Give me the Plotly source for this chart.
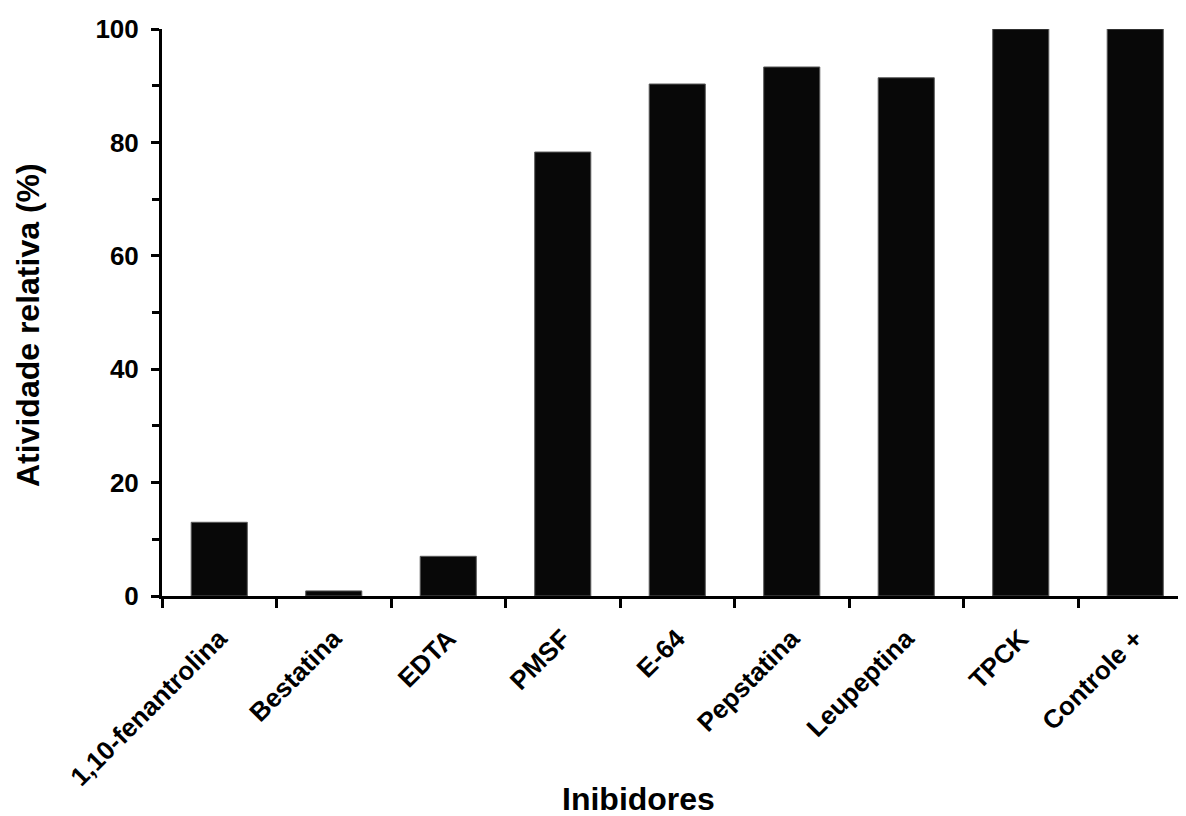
import plotly.graph_objects as go

categories = ["1,10-fenantrolina", "Bestatina", "EDTA", "PMSF", "E-64",
              "Pepstatina", "Leupeptina", "TPCK", "Controle +"]
atividade = [13, 0.9, 7, 78.3, 90.3, 93.3, 91.4, 100, 100]
y_ticks = [0, 20, 40, 60, 80, 100]

OFF = 8  # page body margin
W, H = 1186 - OFF, 816 - OFF
L, T = 162 - OFF, 29 - OFF
plot_bottom = 596 - OFF
B = H - plot_bottom
R = 0
pw = W - L - R
ph = H - T - B
cat_w = 114.5
x_max = -0.5 + pw / cat_w

FONT = "Liberation Sans, Arial, sans-serif"

fig = go.Figure()
fig.add_trace(go.Bar(
    x=categories, y=atividade, width=0.49,
    marker=dict(color="#080808", line=dict(color="#5a5a5a", width=1)),
))

def px_x(xp):
    return (xp - OFF - L) / pw

def px_y(yp):
    return (plot_bottom - (yp - OFF)) / ph

fig.update_layout(
    width=W, height=H,
    margin=dict(l=L, r=R, t=T, b=B, autoexpand=False),
    plot_bgcolor="white", paper_bgcolor="white",
    showlegend=False,
    font=dict(family=FONT, color="black", size=26, weight="bold"),
    xaxis=dict(
        type="category", range=[-0.5, x_max],
        showline=True, linecolor="black", linewidth=3,
        ticks="outside", tickson="boundaries", ticklen=9, tickwidth=3, tickcolor="black",
        tickangle=-45, ticklabelstandoff=14,
        tickfont=dict(size=26, family=FONT, weight="bold"),
        showgrid=False, zeroline=False,
    ),
    yaxis=dict(
        range=[0, 100], tickvals=y_ticks,
        showline=True, linecolor="black", linewidth=3,
        ticks="outside", ticklen=8, tickwidth=3, tickcolor="black",
        ticklabelstandoff=7,
        minor=dict(dtick=10, tick0=0, ticks="outside", ticklen=7, tickwidth=3, tickcolor="black", showgrid=False),
        tickfont=dict(size=26, family=FONT, weight="bold"),
        showgrid=False, zeroline=False,
    ),
    annotations=[
        dict(text="Atividade relativa (%)", xref="paper", yref="paper",
             x=px_x(28), y=px_y(325), textangle=-90,
             showarrow=False, xanchor="center", yanchor="middle",
             font=dict(size=32, family=FONT, weight="bold")),
        dict(text="Inibidores", xref="paper", yref="paper",
             x=px_x(638), y=px_y(799),
             showarrow=False, xanchor="center", yanchor="middle",
             font=dict(size=32, family=FONT, weight="bold")),
    ],
)

fig.write_html("out.html")
